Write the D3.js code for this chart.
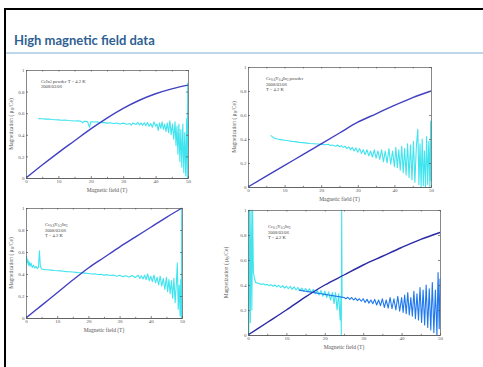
<!DOCTYPE html>
<html>
<head>
<meta charset="utf-8">
<script src="https://cdn.jsdelivr.net/npm/d3@7"></script>
<style>
  body { margin: 0; background: #fff; }
  svg { display: block; }
  .axis text { font-family: "Liberation Serif", serif; font-size: 5px; fill: #555; }
  .axis path, .axis line { stroke: #555; stroke-width: 0.7; }
  .lbl { font-family: "Liberation Serif", serif; font-size: 5.5px; fill: #555; }
  .note { font-family: "Liberation Serif", serif; font-size: 4.6px; fill: #444; }
</style>
</head>
<body>
<svg id="chart" width="483" height="367"></svg>
<script>
// magnetization curves, sampled every 5 T
const field = [0, 5, 10, 15, 20, 25, 30, 35, 40, 45, 50];
const magCeIn3 = [0, 0.12, 0.235, 0.345, 0.455, 0.555, 0.645, 0.72, 0.78, 0.825, 0.86];
const magY04 = [0, 0.09, 0.18, 0.27, 0.36, 0.45, 0.54, 0.61, 0.68, 0.745, 0.80];
const magY02 = [0, 0.115, 0.23, 0.345, 0.455, 0.55, 0.645, 0.735, 0.825, 0.915, 1.0];
const magY05 = [0, 0.1, 0.2, 0.305, 0.40, 0.48, 0.56, 0.63, 0.70, 0.765, 0.82];

// dM/dH traces [field, value]
const dmCeIn3 = [[3.8,.55],[5,.548],[6,.545],[7,.547],[8,.542],[9,.54],[10,.538],[11,.535],[12,.537],[13,.532],[14,.53],[15,.528],[16,.53],[17,.524],[17.5,.51],[18,.526],[19,.522],[19.6,.47],[20,.52],[21,.518],[22,.52],[23,.512],[24,.515],[25,.508],[26,.512],[27,.505],[28,.51],[29,.5],[30,.508],[31,.498],[32,.505],[32.5,.49],[33,.51],[34,.495],[34.5,.515],[35,.49],[35.5,.51],[36,.488],[36.5,.512],[37,.485],[37.5,.515],[38,.48],[38.5,.505],[39,.47],[39.5,.52],[40,.48],[40.4,.5],[40.8,.44],[41.2,.51],[41.6,.46],[42,.52],[42.4,.45],[42.8,.5],[43.2,.43],[43.6,.51],[44,.42],[44.4,.53],[44.8,.4],[45.2,.5],[45.6,.36],[46,.52],[46.3,.3],[46.6,.48],[46.9,.22],[47.2,.5],[47.5,.15],[47.8,.45],[48.1,.1],[48.4,.5],[48.7,.05],[49,.42],[49.3,.02],[49.6,.55],[49.8,0],[49.9,.88],[50,.3]];
const dmY04 = [[6.2,.43],[6.6,.42],[7,.41],[7.5,.405],[8,.4],[9,.395],[10,.39],[11,.385],[12,.38],[13,.378],[14,.372],[15,.37],[16,.366],[17,.362],[18,.36],[19,.358],[20,.355],[21,.352],[22,.356],[22.5,.345],[23,.35],[24,.34],[24.5,.35],[25,.335],[25.5,.345],[26,.33],[26.5,.34],[27,.32],[27.5,.335],[28,.31],[28.5,.33],[29,.3],[29.5,.325],[30,.29],[30.5,.32],[31,.28],[31.5,.31],[32,.27],[32.5,.31],[33,.26],[33.5,.3],[34,.25],[34.5,.31],[35,.24],[35.5,.3],[36,.23],[36.5,.31],[37,.21],[37.5,.3],[38,.2],[38.5,.32],[39,.19],[39.5,.3],[40,.17],[40.4,.33],[40.8,.16],[41.2,.31],[41.6,.14],[42,.34],[42.4,.12],[42.8,.32],[43.2,.1],[43.6,.36],[44,.08],[44.4,.35],[44.8,.06],[45.2,.38],[45.6,.04],[46,.34],[46.4,.48],[46.7,.02],[47,.36],[47.3,0],[47.6,.4],[47.9,.01],[48.2,.3],[48.5,0],[48.8,.42],[49.1,.02],[49.4,.38],[49.7,0],[49.9,.55],[50,.05]];
const dmY02 = [[0.2,.56],[0.4,.5],[0.6,.53],[0.8,.48],[1,.51],[1.3,.47],[1.6,.5],[2,.46],[2.4,.48],[2.8,.455],[3.2,.47],[3.6,.45],[4,.46],[4.3,.61],[4.6,.47],[5,.445],[6,.44],[7,.438],[8,.435],[9,.432],[10,.43],[11,.428],[12,.425],[13,.422],[14,.42],[15,.418],[16,.415],[17,.412],[18,.41],[19,.408],[20,.405],[21,.4],[22,.402],[23,.396],[24,.398],[25,.39],[26,.394],[27,.386],[28,.39],[29,.38],[30,.388],[31,.376],[32,.385],[33,.372],[34,.386],[35,.368],[36,.388],[36.5,.36],[37,.385],[37.5,.355],[38,.39],[38.5,.35],[39,.4],[39.5,.34],[40,.38],[40.5,.33],[41,.39],[41.5,.32],[42,.37],[42.5,.3],[43,.38],[43.5,.29],[44,.36],[44.5,.26],[45,.37],[45.4,.24],[45.8,.35],[46.2,.22],[46.6,.34],[47,.18],[47.4,.36],[47.8,.14],[48.2,.32],[48.5,.5],[48.8,.08],[49.1,.3],[49.4,.02],[49.6,.35],[49.8,0],[49.9,1],[50,0]];
const dmY05low = [[0.2,0],[0.4,1],[0.6,.1],[0.8,1],[1,.2],[1.2,1],[1.4,.5],[1.7,.45],[2,.42],[2.5,.415],[3,.41],[3.5,.405],[4,.41],[4.5,.4],[5,.405],[5.5,.395],[6,.402],[6.5,.39],[7,.4],[7.5,.385],[8,.398],[8.5,.38],[9,.395],[9.5,.375],[10,.39],[10.5,.37],[11,.39],[11.5,.365],[12,.385],[12.5,.36],[13,.38],[13.5,.355],[14,.375],[14.5,.35],[15,.372],[15.5,.345],[16,.37],[16.5,.34],[17,.365],[17.5,.33],[18,.36],[18.5,.32],[19,.355],[19.5,.31],[20,.35],[20.5,.3],[21,.345],[21.5,.28],[22,.34],[22.4,.25],[22.8,.34],[23.2,.2],[23.6,.33],[24,.12],[24.2,.3],[24.3,0],[24.4,1],[24.5,.3]];
const dmY05high = [[13.2,.36],[14,.355],[15,.35],[16,.345],[17,.34],[18,.335],[19,.33],[20,.325],[21,.32],[22,.315],[23,.31],[24,.305],[25,.3],[25.5,.29],[26,.302],[26.5,.285],[27,.3],[27.5,.28],[28,.295],[28.5,.275],[29,.29],[29.5,.27],[30,.29],[30.5,.26],[31,.285],[31.5,.255],[32,.28],[32.5,.25],[33,.285],[33.5,.24],[34,.28],[34.5,.235],[35,.29],[35.5,.22],[36,.28],[36.5,.215],[37,.3],[37.5,.21],[38,.29],[38.5,.2],[39,.31],[39.5,.19],[40,.3],[40.4,.18],[40.8,.32],[41.2,.17],[41.6,.34],[42,.16],[42.4,.3],[42.8,.15],[43.2,.35],[43.6,.13],[44,.33],[44.4,.12],[44.8,.38],[45.2,.1],[45.6,.36],[46,.08],[46.4,.4],[46.8,.06],[47.2,.37],[47.6,.04],[48,.42],[48.4,.02],[48.8,.36],[49.2,0],[49.5,.5],[49.8,.05],[50,.45]];

const xTicks = [0, 10, 20, 30, 40, 50];
const xMinor = [5, 15, 25, 35, 45];
const yTicks = [0, 0.2, 0.4, 0.6, 0.8, 1];

const svg = d3.select("#chart");

// slide frame + title
svg.append("line").attr("x1", 4).attr("x2", 483).attr("y1", 9).attr("y2", 9)
  .attr("stroke", "#000").attr("stroke-width", 2);
svg.append("line").attr("x1", 5).attr("x2", 5).attr("y1", 8).attr("y2", 367)
  .attr("stroke", "#000").attr("stroke-width", 2);
svg.append("text").attr("x", 14).attr("y", 45)
  .attr("font-family", "Lato, sans-serif").attr("font-weight", "bold")
  .attr("font-size", 13).attr("fill", "#2f5f93")
  .text("High magnetic field data");
svg.append("line").attr("x1", 6).attr("x2", 483).attr("y1", 53).attr("y2", 53)
  .attr("stroke", "#a9c8e6").attr("stroke-width", 1.5);

// chemical formulas with subscripts
function formula(sel, parts) {
  parts.forEach(p => {
    if (p.sub) sel.append("tspan").attr("dy", 0.8).attr("font-size", "3.4px").text(p.sub);
    else sel.append("tspan").attr("dy", p.after ? -0.8 : 0).text(p.t);
  });
}

const panels = [
  { x0: 26, x1: 188, y0: 70, y1: 178, ylab: 13, mag: magCeIn3, dm: [[dmCeIn3, "#3fe4ee"]], magColor: "#4141c2",
    note: { x: 41, y: [82.5, 88], lines: [
      [{t: "CeIn"}, {sub: "3"}, {t: " powder T = 4.2 K", after: true}],
      [{t: "2008/03/06"}]] } },
  { x0: 248, x1: 431, y0: 67, y1: 187, ylab: 236, mag: magY04, dm: [[dmY04, "#3fe4ee"]], magColor: "#4141c2",
    note: { x: 266, y: [80, 85.5, 91], lines: [
      [{t: "Ce"}, {sub: "0.6"}, {t: "Y", after: true}, {sub: "0.4"}, {t: "In", after: true}, {sub: "3"}, {t: " powder", after: true}],
      [{t: "2008/03/06"}],
      [{t: "T = 4.2 K"}]] } },
  { x0: 26, x1: 182, y0: 208, y1: 318, ylab: 13, mag: magY02, dm: [[dmY02, "#3fe4ee"]], magColor: "#4141c2",
    note: { x: 45, y: [226, 231.5, 237], lines: [
      [{t: "Ce"}, {sub: "0.8"}, {t: "Y", after: true}, {sub: "0.2"}, {t: "In", after: true}, {sub: "3"}],
      [{t: "2008/03/06"}],
      [{t: "T = 4.2 K"}]] } },
  { x0: 248, x1: 440, y0: 210, y1: 335, ylab: 228, mag: magY05, dm: [[dmY05low, "#3fe4ee"], [dmY05high, "#1f78ee"]], magColor: "#2a2aa6",
    note: { x: 268, y: [228, 233.5, 239], lines: [
      [{t: "Ce"}, {sub: "0.5"}, {t: "Y", after: true}, {sub: "0.5"}, {t: "In", after: true}, {sub: "3"}],
      [{t: "2008/03/06"}],
      [{t: "T = 4.2 K"}]] } }
];

panels.forEach((p, i) => {
  const x = d3.scaleLinear().domain([0, 50]).range([p.x0, p.x1]);
  const y = d3.scaleLinear().domain([0, 1]).range([p.y1, p.y0]);
  const g = svg.append("g");

  g.append("clipPath").attr("id", "clip" + i)
    .append("rect").attr("x", p.x0).attr("y", p.y0 - 0.5)
    .attr("width", p.x1 - p.x0 + 0.5).attr("height", p.y1 - p.y0 + 1);

  const plot = g.append("g").attr("clip-path", "url(#clip" + i + ")");
  const dmLine = d3.line().x(d => x(d[0])).y(d => y(d[1]));
  p.dm.forEach(([series, color]) => {
    plot.append("path").datum(series).attr("d", dmLine)
      .attr("fill", "none").attr("stroke", color).attr("stroke-width", 1.1)
      .attr("stroke-linejoin", "round");
  });
  const magLine = d3.line().curve(d3.curveMonotoneX).x((d, k) => x(field[k])).y(d => y(d));
  plot.append("path").datum(p.mag).attr("d", magLine)
    .attr("fill", "none").attr("stroke", p.magColor).attr("stroke-width", 1.4);

  // box axes, ticks pointing inward
  const fmtY = d => d === 0 ? "0" : d === 1 ? "1" : d.toFixed(1);
  g.append("g").attr("class", "axis").attr("transform", `translate(0,${p.y1})`)
    .call(d3.axisBottom(x).tickValues(xTicks).tickSize(-2).tickSizeOuter(0).tickPadding(1.5));
  g.append("g").attr("class", "axis").attr("transform", `translate(0,${p.y1})`)
    .call(d3.axisBottom(x).tickValues(xMinor).tickSize(-1.2).tickSizeOuter(0).tickFormat(""));
  g.append("g").attr("class", "axis").attr("transform", `translate(0,${p.y0})`)
    .call(d3.axisTop(x).tickValues(xTicks.concat(xMinor)).tickSize(-1.5).tickSizeOuter(0).tickFormat(""));
  g.append("g").attr("class", "axis").attr("transform", `translate(${p.x0},0)`)
    .call(d3.axisLeft(y).tickValues(yTicks).tickSize(-2).tickSizeOuter(0).tickPadding(1.5).tickFormat(fmtY));
  g.append("g").attr("class", "axis").attr("transform", `translate(${p.x1},0)`)
    .call(d3.axisRight(y).tickValues(yTicks).tickSize(-2).tickSizeOuter(0).tickFormat(""));

  g.append("text").attr("class", "lbl").attr("text-anchor", "middle")
    .attr("x", (p.x0 + p.x1) / 2).attr("y", p.y1 + 13.5)
    .text("Magnetic field (T)");
  const yl = g.append("text").attr("class", "lbl").attr("text-anchor", "middle")
    .attr("transform", `translate(${p.ylab},${(p.y0 + p.y1) / 2}) rotate(-90)`);
  yl.append("tspan").text("Magnetization ( \u03bc");
  yl.append("tspan").attr("dy", 1).attr("font-size", "4px").text("B");
  yl.append("tspan").attr("dy", -1).text("/Ce)");

  p.note.lines.forEach((parts, k) => {
    const t = g.append("text").attr("class", "note").attr("x", p.note.x).attr("y", p.note.y[k]);
    formula(t, parts);
  });
});
</script>
</body>
</html>
